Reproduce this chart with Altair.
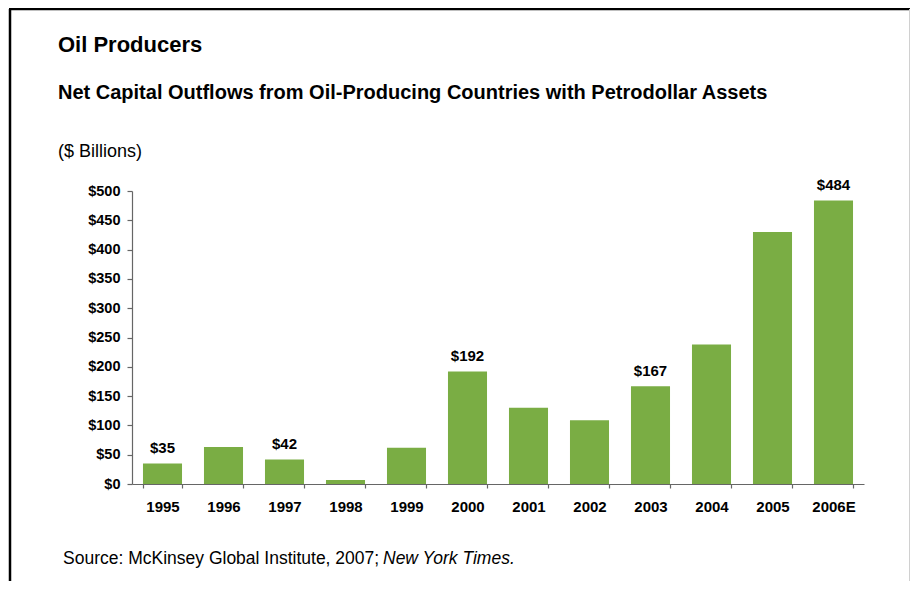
import altair as alt
import pandas as pd

years = ["1995", "1996", "1997", "1998", "1999", "2000", "2001", "2002", "2003", "2004", "2005", "2006E"]
outflows = [35, 63, 42, 7, 62, 192, 130, 109, 167, 238, 430, 484]
labeled_years = ["1995", "1997", "2000", "2003", "2006E"]
y_ticks = [0, 50, 100, 150, 200, 250, 300, 350, 400, 450, 500]

title_text = "Oil Producers"
subtitle_text = "Net Capital Outflows from Oil-Producing Countries with Petrodollar Assets"
unit_text = "($ Billions)"
source_plain = "Source: McKinsey Global Institute, 2007; "
source_italic = "New York Times."

FONT = "Liberation Sans, Arial, Helvetica, sans-serif"
GREEN = "#7aad44"

df = pd.DataFrame({
    "year": years,
    "value": outflows,
    "show": [y in labeled_years for y in years],
})

W, H = 732, 293

x_enc = alt.X(
    "year:N",
    sort=years,
    scale=alt.Scale(paddingInner=0.36, paddingOuter=0.18),
    axis=alt.Axis(
        title=None, labelAngle=0, tickBand="extent", tickSize=4,
        labelPadding=11, labelFont=FONT, labelFontSize=15, labelFontWeight="bold",
        labelColor="#000000", domainColor="#666666", tickColor="#666666",
        domainWidth=1.2, tickWidth=1.2,
    ),
)
y_enc = alt.Y(
    "value:Q",
    scale=alt.Scale(domain=[y_ticks[0], y_ticks[-1]], nice=False),
    axis=alt.Axis(
        title=None, tickCount=len(y_ticks) - 1, tickMinStep=50,
        labelExpr="'$' + format(datum.value, 'd')", grid=False, tickSize=5,
        labelOverlap=False, labelPadding=7, labelFont=FONT, labelFontSize=14.5,
        labelFontWeight="bold", labelColor="#000000", domainColor="#666666",
        tickColor="#666666", domainWidth=1.2, tickWidth=1.2,
    ),
)

base = alt.Chart(df)
bars = base.mark_bar(color=GREEN).encode(x=x_enc, y=y_enc)
labels = base.transform_filter("datum.show").transform_calculate(
    lab="'$' + datum.value"
).mark_text(
    font=FONT, fontSize=15, fontWeight="bold", color="#000000",
    baseline="alphabetic", dy=-10,
).encode(x=x_enc, y=y_enc, text="lab:N")

one = alt.Data(values=[{"k": 1}])

def txt(s, x, y, size, weight="normal", style="normal"):
    return alt.Chart(one).mark_text(
        text=s, font=FONT, fontSize=size, fontWeight=weight, fontStyle=style,
        align="left", baseline="alphabetic", color="#000000",
    ).encode(x=alt.value(x), y=alt.value(y))

t1 = txt(title_text, -74, -139, 22, "bold")
t2 = txt(subtitle_text, -74, -92, 20, "bold")
t3 = txt(unit_text, -74, -34, 18)
t4 = txt(source_plain, -69, 373, 17.5)
t5 = txt(source_italic, 251, 373, 17.5, style="italic")

left_border = alt.Chart(one).mark_rule(color="#000000", strokeWidth=2.5).encode(
    x=alt.value(-122), y=alt.value(-182), y2=alt.value(H + 97)
)
top_border = alt.Chart(one).mark_rule(color="#000000", strokeWidth=2.5).encode(
    x=alt.value(-123), x2=alt.value(778), y=alt.value(-182)
)
right_border = alt.Chart(one).mark_rule(color="#d0d0d0", strokeWidth=1).encode(
    x=alt.value(777.5), y=alt.value(-182), y2=alt.value(H + 97)
)

chart = alt.layer(
    bars, labels, t1, t2, t3, t4, t5, left_border, top_border, right_border
).properties(
    width=W, height=H,
    autosize=alt.AutoSizeParams(type="none"),
    padding={"left": 124, "top": 183, "right": 46, "bottom": 97},
).configure(background="#ffffff").configure_view(stroke=None)

chart.save("out.html", embed_options={"renderer": "svg", "actions": False})
